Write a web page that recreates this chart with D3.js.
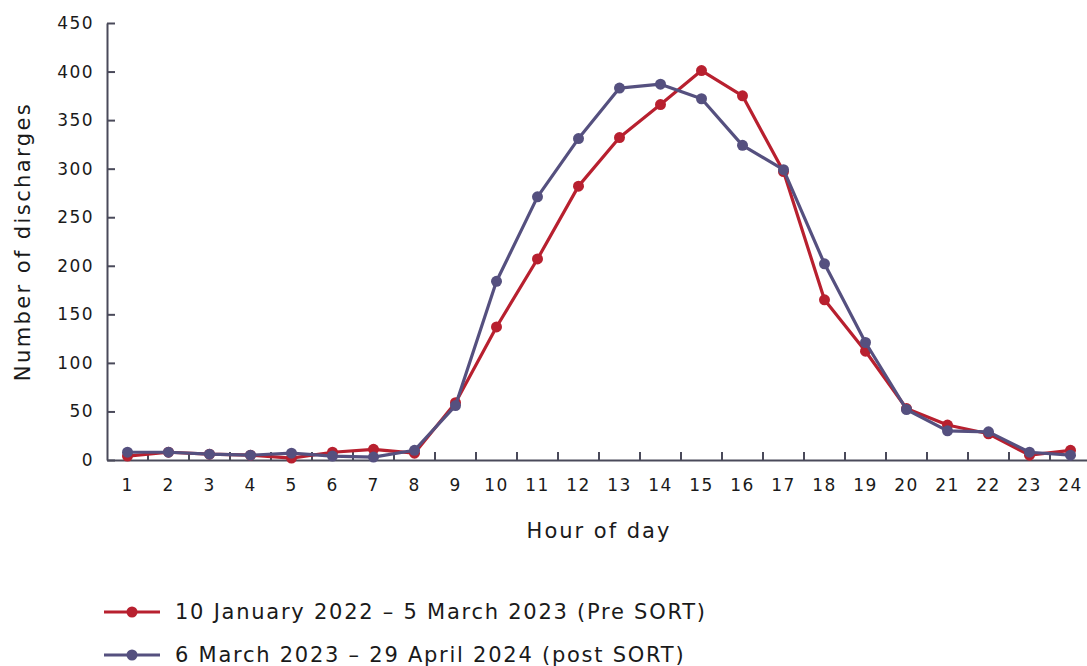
<!DOCTYPE html>
<html>
<head>
<meta charset="utf-8">
<script src="https://cdn.jsdelivr.net/npm/d3@7"></script>
<style>
  body { margin: 0; background: #fff; }
  text { font-family: "DejaVu Sans", sans-serif; fill: #1a1a1a; }
</style>
</head>
<body>
<div id="chart"></div>
<script>
// hours of the day (categories)
const hours = d3.range(1, 25).map(String);

// 10 January 2022 - 5 March 2023 (Pre SORT)
const preSort = [4, 8, 6, 5, 2, 8, 11, 7, 59, 137, 207, 282, 332, 366, 401, 375, 297, 165, 112, 53, 36, 27, 5, 10];
// 6 March 2023 - 29 April 2024 (post SORT)
const postSort = [8, 8, 6, 5, 7, 4, 3, 10, 56, 184, 271, 331, 383, 387, 372, 324, 299, 202, 121, 52, 30, 29, 8, 5];

const yTicks = [0, 50, 100, 150, 200, 250, 300, 350, 400, 450];

const seriesNames = ["10 January 2022 \u2013 5 March 2023 (Pre SORT)", "6 March 2023 \u2013 29 April 2024 (post SORT)"];
const seriesColors = ["#b8202f", "#55507f"];

const width = 1087, height = 666;
const margin = {top: 23, right: 0, bottom: 206, left: 107};

const svg = d3.select("#chart").append("svg")
  .attr("width", width)
  .attr("height", height);

const x = d3.scaleBand()
  .domain(hours)
  .range([margin.left, margin.left + 41 * 24]);

const y = d3.scaleLinear()
  .domain([0, 450])
  .range([height - margin.bottom, margin.top]);

const axisColor = "#4a4a5a";
const tickFont = "17px";

// y axis, ticks point inward
const yAxis = svg.append("g")
  .attr("transform", `translate(${margin.left},0)`)
  .call(d3.axisLeft(y).tickValues(yTicks).tickSize(0).tickPadding(13));
yAxis.select(".domain").attr("stroke", axisColor).attr("stroke-width", 2);
yAxis.selectAll(".tick line").remove();
yAxis.selectAll(".tick").append("line")
  .attr("x1", 0).attr("x2", 8)
  .attr("stroke", axisColor).attr("stroke-width", 2);
yAxis.selectAll(".tick text")
  .style("font-size", tickFont)
  .style("letter-spacing", "1.4px")
  .attr("fill", "#1a1a1a");

// x axis: labels centered in band, ticks at band boundaries pointing up
const x0 = y(0);
const xAxis = svg.append("g")
  .attr("transform", `translate(0,${x0})`)
  .call(d3.axisBottom(x).tickSize(0).tickPadding(19));
xAxis.select(".domain").attr("stroke", axisColor).attr("stroke-width", 2);
xAxis.selectAll(".tick text")
  .style("font-size", tickFont)
  .style("letter-spacing", "1.4px")
  .attr("fill", "#1a1a1a");
xAxis.selectAll(".boundary")
  .data(hours.slice(1))
  .enter().append("line")
  .attr("x1", d => x(d)).attr("x2", d => x(d))
  .attr("y1", 0).attr("y2", -8)
  .attr("stroke", axisColor).attr("stroke-width", 2);

// axis titles
svg.append("text")
  .attr("transform", `translate(30,${(margin.top + x0) / 2}) rotate(-90)`)
  .attr("text-anchor", "middle")
  .style("font-size", "21px")
  .style("letter-spacing", "2.4px")
  .text("Number of discharges");

svg.append("text")
  .attr("x", x("12") + x.bandwidth())
  .attr("y", 538)
  .attr("text-anchor", "middle")
  .style("font-size", "21px")
  .style("letter-spacing", "2px")
  .text("Hour of day");

// series
const cx = d => x(d) + x.bandwidth() / 2;
const line = d3.line()
  .x((d, i) => cx(hours[i]))
  .y(d => y(d));

[preSort, postSort].forEach((vals, s) => {
  const g = svg.append("g");
  g.append("path")
    .datum(vals)
    .attr("d", line)
    .attr("fill", "none")
    .attr("stroke", seriesColors[s])
    .attr("stroke-width", 3.2)
    .attr("stroke-linejoin", "round");
  g.selectAll("circle")
    .data(vals)
    .enter().append("circle")
    .attr("cx", (d, i) => cx(hours[i]))
    .attr("cy", d => y(d))
    .attr("r", 5.5)
    .attr("fill", seriesColors[s]);
});

// legend
const legend = svg.append("g");
seriesNames.forEach((name, i) => {
  const ly = 612 + i * 43;
  legend.append("line")
    .attr("x1", 104).attr("x2", 160)
    .attr("y1", ly).attr("y2", ly)
    .attr("stroke", seriesColors[i]).attr("stroke-width", 3.2);
  legend.append("circle")
    .attr("cx", 132).attr("cy", ly).attr("r", 5.5)
    .attr("fill", seriesColors[i]);
  legend.append("text")
    .attr("x", 175).attr("y", ly)
    .attr("dy", "0.35em")
    .style("font-size", "21px")
    .style("letter-spacing", "1.75px")
    .text(name);
});
</script>
</body>
</html>
